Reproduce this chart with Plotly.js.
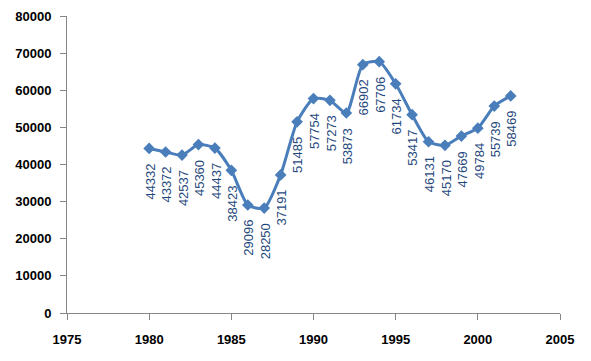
<!DOCTYPE html>
<html>
<head>
<meta charset="utf-8">
<script src="https://cdn.plot.ly/plotly-3.0.1.min.js"></script>
<style>html,body{margin:0;padding:0;background:#fff;}#chart{width:591px;height:361px;}</style>
</head>
<body>
<div id="chart"></div>
<script>
const years = [1980,1981,1982,1983,1984,1985,1986,1987,1988,1989,1990,1991,1992,1993,1994,1995,1996,1997,1998,1999,2000,2001,2002];
const values = [44332,43372,42537,45360,44437,38423,29096,28250,37191,51485,57754,57273,53873,66902,67706,61734,53417,46131,45170,47669,49784,55739,58469];
const xTicks = [1975,1980,1985,1990,1995,2000,2005];
const yTicks = [0,10000,20000,30000,40000,50000,60000,70000,80000];

const trace = {
  x: years, y: values, type: 'scatter', mode: 'lines+markers',
  line: {color: '#4A7EBB', width: 3, shape: 'spline', smoothing: 0.6},
  marker: {symbol: 'diamond', size: 9, color: '#4A7EBB'},
  hoverinfo: 'none'
};

const annotations = years.map((yr, i) => ({
  x: yr, y: values[i], xref: 'x', yref: 'y',
  text: String(values[i]), showarrow: false, textangle: -90,
  xanchor: 'center', yanchor: 'top', yshift: -13, xshift: 1,
  font: {family: 'Liberation Sans, Arial, sans-serif', size: 13, color: '#1F497D'}
}));

const axisFont = {family: 'Liberation Sans, Arial, sans-serif', size: 13, color: '#000', weight: 'bold'};

const layout = {
  width: 591, height: 361,
  margin: {l: 66.5, r: 31, t: 16, b: 48},
  paper_bgcolor: '#fff', plot_bgcolor: '#fff',
  showlegend: false,
  xaxis: {
    range: [1975, 2005], tickvals: xTicks, ticktext: xTicks.map(String),
    showgrid: false, zeroline: false, showline: true, linecolor: '#868686', linewidth: 1,
    ticks: 'outside', ticklen: 6, tickcolor: '#868686', tickfont: axisFont,
    ticklabelstandoff: 8
  },
  yaxis: {
    range: [0, 80000], tickvals: yTicks, ticktext: yTicks.map(String),
    showgrid: false, zeroline: false, showline: true, linecolor: '#868686', linewidth: 1,
    ticks: 'outside', ticklen: 6, tickcolor: '#868686', tickfont: axisFont,
    ticklabelstandoff: 6
  },
  annotations: annotations
};

Plotly.newPlot('chart', [trace], layout, {staticPlot: true, displayModeBar: false});
</script>
</body>
</html>
